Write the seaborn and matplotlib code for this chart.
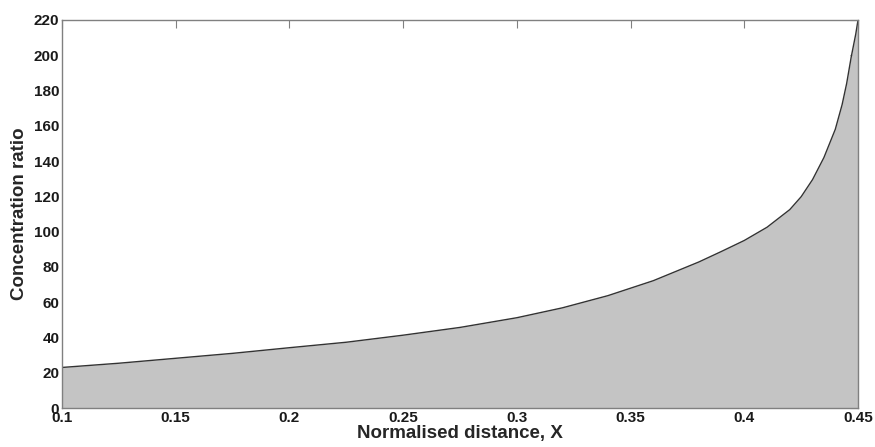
import numpy as np
import pandas as pd
import matplotlib
matplotlib.use("Agg")
import matplotlib.pyplot as plt
import seaborn as sns

# valores
distancia = [0.100, 0.125, 0.150, 0.175, 0.200, 0.225, 0.250, 0.275, 0.300,
             0.320, 0.340, 0.360, 0.380, 0.390, 0.400, 0.410, 0.420, 0.425,
             0.430, 0.435, 0.440, 0.443, 0.445, 0.447, 0.449, 0.450]
razao = [23.0, 25.4, 28.2, 31.0, 34.2, 37.3, 41.3, 45.7, 51.2,
         56.8, 63.7, 72.2, 82.8, 88.8, 95.0, 102.5, 112.5, 119.8,
         129.5, 142.0, 158.0, 172.0, 184.0, 199.0, 212.0, 220.0]
x_ticks = [0.1, 0.15, 0.2, 0.25, 0.3, 0.35, 0.4, 0.45]
x_labels = ["0.1", "0.15", "0.2", "0.25", "0.3", "0.35", "0.4", "0.45"]
y_ticks = list(range(0, 221, 20))

df = pd.DataFrame({"x": distancia, "c": razao})

sns.set_style("white")
plt.rcParams['font.family'] = ['Liberation Sans', 'DejaVu Sans']
plt.rcParams['font.weight'] = 'bold'

fig = plt.figure(figsize=(8.75, 4.47), dpi=100)
ax = fig.add_axes([0.0709, 0.0872, 0.9097, 0.8681])

ax.fill_between(df['x'], 0, df['c'], color='#c4c4c4', linewidth=0)
sns.lineplot(data=df, x='x', y='c', color='#333333', linewidth=1.0, ax=ax)

ax.set_xlim(0.1, 0.45)
ax.set_ylim(0, 220)
ax.set_xticks(x_ticks)
ax.set_xticklabels(x_labels)
ax.set_yticks(y_ticks)

ax.tick_params(direction='in', length=6, width=0.8, color='#808080',
               top=True, right=True, labelsize=11, labelcolor='#1a1a1a', pad=2)
for lbl in ax.get_xticklabels() + ax.get_yticklabels():
    lbl.set_fontweight('bold')
for s in ax.spines.values():
    s.set_color('#808080')
    s.set_linewidth(1.0)

ax.set_xlabel('Normalised distance, X', fontsize=13.5, fontweight='bold', labelpad=0)
ax.set_ylabel('Concentration ratio', fontsize=13.5, fontweight='bold', labelpad=4)

fig.savefig("out.png", dpi=100)
